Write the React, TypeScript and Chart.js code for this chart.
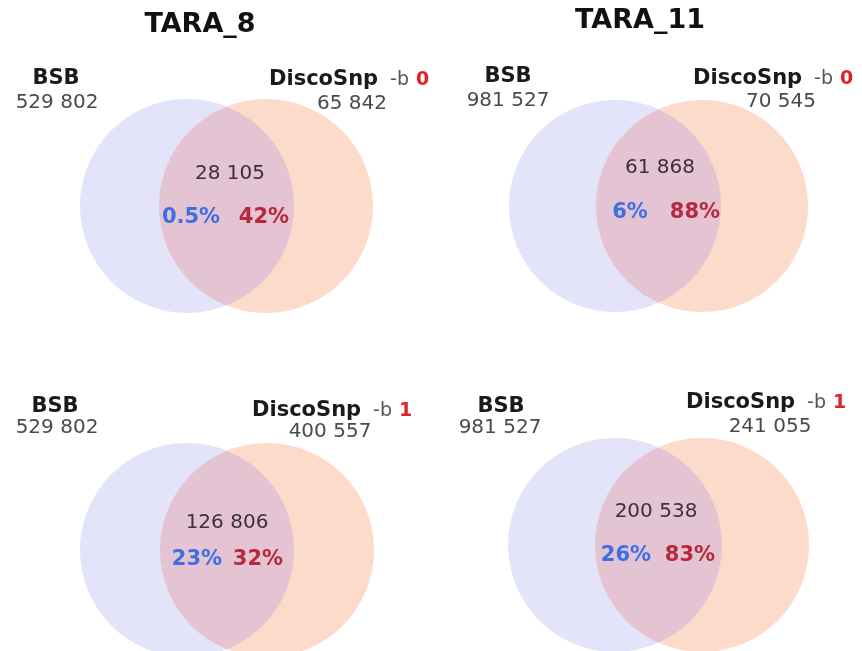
import React, { useEffect, useRef } from "react";
import { Chart, registerables } from "chart.js";

Chart.register(...registerables);

// ---- data ----
const TITLES = ["TARA_8", "TARA_11"];
const SET_NAMES = ["BSB", "DiscoSnp"];
const B_PARAM = [0, 0, 1, 1];
const BSB_TOTAL = [529802, 981527, 529802, 981527];
const DISCO_TOTAL = [65842, 70545, 400557, 241055];
const SHARED = [28105, 61868, 126806, 200538];
const PCT_OF_BSB = [0.5, 6, 23, 26];
const PCT_OF_DISCO = [42, 88, 32, 83];

// ---- layout (positions in page units) ----
const TITLE_POS = [
  { x: 200, y: 25 },
  { x: 640, y: 21 },
];
const PANELS = [
  { bx: 187, by: 206, ox: 266, oy: 206, r: 107, bsbX: 56, bsbY: 79, bsbNX: 57, bsbNY: 103, dX: 269, dY: 80, dNX: 352, dNY: 104, sX: 230, sY: 174, pY: 218, pBX: 191, pDX: 264 },
  { bx: 615, by: 206, ox: 702, oy: 206, r: 106, bsbX: 508, bsbY: 77, bsbNX: 508, bsbNY: 101, dX: 693, dY: 79, dNX: 781, dNY: 102, sX: 660, sY: 168, pY: 213, pBX: 630, pDX: 695 },
  { bx: 187, by: 550, ox: 267, oy: 550, r: 107, bsbX: 55, bsbY: 407, bsbNX: 57, bsbNY: 428, dX: 252, dY: 411, dNX: 330, dNY: 432, sX: 227, sY: 523, pY: 560, pBX: 197, pDX: 258 },
  { bx: 615, by: 545, ox: 702, oy: 545, r: 107, bsbX: 501, bsbY: 407, bsbNX: 500, bsbNY: 428, dX: 686, dY: 403, dNX: 770, dNY: 427, sX: 656, sY: 512, pY: 556, pBX: 626, pDX: 690 },
];

const BLUE = "rgb(227,227,250)";
const ORANGE = "rgb(252,219,202)";
const LENS = "rgb(228,195,210)";
const FONT = "'DejaVu Sans', Verdana, sans-serif";

const fmt = (n: number) => n.toString().replace(/\B(?=(\d{3})+(?!\d))/g, " ");

const vennPlugin = {
  id: "venn",
  afterDatasetsDraw(chart: any) {
    const ctx = chart.ctx;
    const mb = chart.getDatasetMeta(0);
    const mo = chart.getDatasetMeta(1);
    mb.data.forEach((a: any, i: number) => {
      const b = mo.data[i];
      const ra = a.options.radius;
      const rb = b.options.radius;
      ctx.save();
      ctx.beginPath();
      ctx.arc(a.x, a.y, ra, 0, Math.PI * 2);
      ctx.clip();
      ctx.beginPath();
      ctx.arc(b.x, b.y, rb, 0, Math.PI * 2);
      ctx.fillStyle = LENS;
      ctx.fill();
      ctx.restore();
    });
  },
  afterDraw(chart: any) {
    const ctx = chart.ctx;
    const sx = chart.scales.x;
    const sy = chart.scales.y;
    const X = (v: number) => sx.getPixelForValue(v);
    const Y = (v: number) => sy.getPixelForValue(v);
    const text = (t: string, x: number, y: number, font: string, color: string, align: CanvasTextAlign = "center") => {
      ctx.font = font;
      ctx.fillStyle = color;
      ctx.textAlign = align;
      ctx.textBaseline = "middle";
      ctx.fillText(t, X(x), Y(y));
    };
    ctx.save();
    TITLES.forEach((t, i) => {
      text(t, TITLE_POS[i].x, TITLE_POS[i].y, `bold 27px ${FONT}`, "#111");
    });
    PANELS.forEach((p, i) => {
      text(SET_NAMES[0], p.bsbX, p.bsbY, `bold 21px ${FONT}`, "#1a1a1a");
      text(fmt(BSB_TOTAL[i]), p.bsbNX, p.bsbNY, `20px ${FONT}`, "#4a4a4a");
      // DiscoSnp -b N
      ctx.font = `bold 21px ${FONT}`;
      ctx.fillStyle = "#1a1a1a";
      ctx.textAlign = "left";
      ctx.textBaseline = "middle";
      let x = X(p.dX);
      const y = Y(p.dY);
      ctx.fillText(SET_NAMES[1], x, y);
      x += ctx.measureText(SET_NAMES[1]).width + 12;
      ctx.font = `19px ${FONT}`;
      ctx.fillStyle = "#555";
      ctx.fillText("-b", x, y);
      x += ctx.measureText("-b").width + 7;
      ctx.font = `bold 19px ${FONT}`;
      ctx.fillStyle = "#e0202a";
      ctx.fillText(String(B_PARAM[i]), x, y);
      text(fmt(DISCO_TOTAL[i]), p.dNX, p.dNY, `20px ${FONT}`, "#4a4a4a");
      text(fmt(SHARED[i]), p.sX, p.sY, `20px ${FONT}`, "#3e3038");
      text(`${PCT_OF_BSB[i]}%`, p.pBX, p.pY, `bold 21px ${FONT}`, "#3c6ee6");
      text(`${PCT_OF_DISCO[i]}%`, p.pDX, p.pY, `bold 21px ${FONT}`, "#b8283c");
    });
    ctx.restore();
  },
};

export default function App() {
  const ref = useRef<HTMLCanvasElement | null>(null);
  useEffect(() => {
    if (!ref.current) return;
    const chart = new Chart(ref.current, {
      type: "bubble",
      data: {
        datasets: [
          {
            label: SET_NAMES[0],
            data: PANELS.map((p) => ({ x: p.bx, y: p.by, r: p.r })),
            backgroundColor: BLUE,
            borderWidth: 0,
            order: 2,
            clip: false,
          },
          {
            label: SET_NAMES[1],
            data: PANELS.map((p) => ({ x: p.ox, y: p.oy, r: p.r })),
            backgroundColor: ORANGE,
            borderWidth: 0,
            order: 1,
            clip: false,
          },
        ],
      },
      options: {
        animation: false,
        responsive: false,
        events: [],
        layout: { padding: 0, autoPadding: false },
        plugins: { legend: { display: false }, tooltip: { enabled: false }, title: { display: false } },
        scales: {
          x: { type: "linear", min: 0, max: 862, display: false },
          y: { type: "linear", min: 0, max: 651, reverse: true, display: false },
        },
      },
      plugins: [vennPlugin],
    });
    return () => chart.destroy();
  }, []);
  return (
    <div style={{ position: "fixed", left: 0, top: 0, width: 862, height: 651, background: "#fff" }}>
      <canvas ref={ref} width={862} height={651} style={{ display: "block" }} />
    </div>
  );
}
